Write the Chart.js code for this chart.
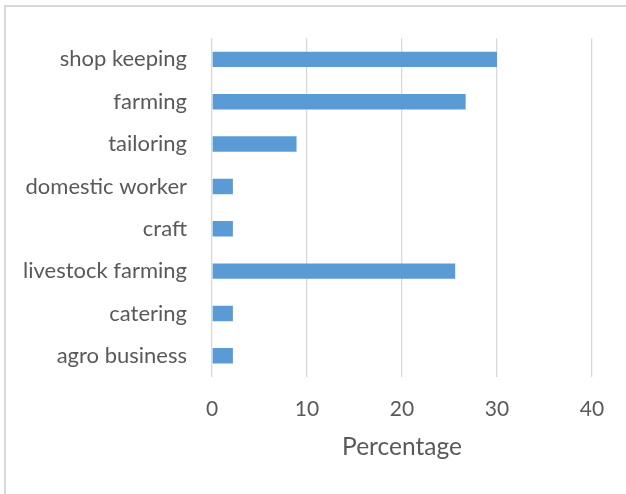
<!DOCTYPE html>
<html>
<head>
<meta charset="utf-8">
<script src="https://cdn.jsdelivr.net/npm/chart.js@4"></script>
<style>
  html, body { margin: 0; padding: 0; background: #fff; }
  #wrap { position: relative; width: 626px; height: 494px; overflow: hidden; }
  #frame { position: absolute; left: 4px; top: 5px; width: 700px; height: 600px;
           border-top: 2px solid #d9d9d9; border-left: 2px solid #d9d9d9; }
  canvas { position: absolute; left: 0; top: 0; }
</style>
</head>
<body>
<div id="wrap">
  <div id="frame"></div>
  <canvas id="c" width="626" height="494"></canvas>
</div>
<script>
// Occupations, top to bottom
const categories = ["shop keeping", "farming", "tailoring", "domestic worker",
                    "craft", "livestock farming", "catering", "agro business"];
// Share of respondents (%)
const percentages = [30.0, 26.7, 8.9, 2.2, 2.2, 25.6, 2.2, 2.2];
const axisTicks = [0, 10, 20, 30, 40];
const axisTitle = "Percentage";

const FONT = "Lato, 'Liberation Sans', sans-serif";
const TEXT = "#595959";

new Chart(document.getElementById("c"), {
  type: "bar",
  data: {
    labels: categories,
    datasets: [{
      data: percentages,
      backgroundColor: "#5b9bd5",
      borderWidth: 0,
      categoryPercentage: 0.8,
      barPercentage: 0.455
    }]
  },
  options: {
    indexAxis: "y",
    responsive: false,
    animation: false,
    events: [],
    layout: { padding: { top: 36, right: 34, bottom: 32, left: 0 } },
    plugins: { legend: { display: false }, tooltip: { enabled: false } },
    scales: {
      x: {
        min: 0, max: 40,
        afterBuildTicks: s => { s.ticks = axisTicks.map(v => ({ value: v })); },
        afterFit: s => { s.height = 85; },
        grid: { color: "#d9d9d9", lineWidth: 1.3, drawTicks: false },
        border: { display: false },
        ticks: { color: TEXT, font: { family: FONT, size: 21 }, padding: 20 },
        title: { display: true, text: axisTitle, color: TEXT,
                 font: { family: FONT, size: 24.5 }, padding: { top: 0, bottom: 0 } }
      },
      y: {
        afterFit: s => { s.width = 212; },
        grid: { display: false, drawTicks: false },
        border: { display: false },
        ticks: { color: TEXT, font: { family: FONT, size: 22 }, padding: 25 }
      }
    }
  }
});
</script>
</body>
</html>
